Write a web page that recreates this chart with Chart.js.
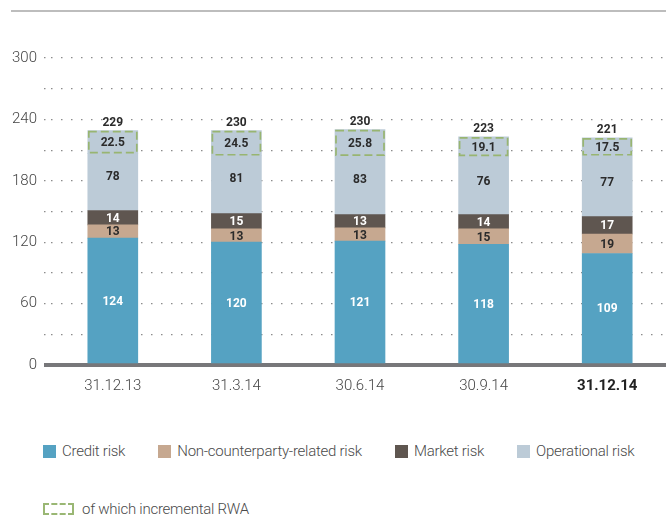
<!DOCTYPE html>
<html>
<head>
<meta charset="utf-8">
<script src="https://cdn.jsdelivr.net/npm/chart.js@4.4.0/dist/chart.umd.min.js"></script>
<style>
  html, body { margin: 0; padding: 0; background: #fff; overflow: hidden; }
  body { width: 666px; height: 519px; position: relative; font-family: Roboto, sans-serif; }
  .topline { position: absolute; left: 11px; top: 10px; width: 660px; height: 2px; background: #bdbdbd; }
  #wrap { position: absolute; left: 0; top: 0; width: 670px; height: 400px; }
  .legend { position: absolute; left: 43px; color: #4a4a4a; font-size: 15px; font-weight: 300; letter-spacing: -0.25px; display: flex; align-items: center; white-space: nowrap; }
  .legend .item { display: flex; align-items: center; margin-right: 33px; }
  .legend .sw { width: 13px; height: 13px; margin-right: 6px; }
  .legend .dash { width: 27px; height: 8px; border: 2px dashed #9ab774; margin-right: 8px; }
</style>
</head>
<body>
<div class="topline"></div>
<div id="wrap"><canvas id="rwaChart" width="670" height="400"></canvas></div>
<div class="legend" style="top:442px">
  <div class="item"><span class="sw" style="background:#55a2c2"></span>Credit risk</div>
  <div class="item"><span class="sw" style="background:#c6a890"></span>Non-counterparty-related risk</div>
  <div class="item"><span class="sw" style="background:#5f5650"></span>Market risk</div>
  <div class="item"><span class="sw" style="background:#bccbd7"></span>Operational risk</div>
</div>
<div class="legend" style="top:500px">
  <div class="item"><span class="dash"></span>of which incremental RWA</div>
</div>
<script>
const categories = ["31.12.13", "31.3.14", "30.6.14", "30.9.14", "31.12.14"];
const creditRisk = [124, 120, 121, 118, 109];
const nonCounterparty = [13, 13, 13, 15, 19];
const marketRisk = [14, 15, 13, 14, 17];
const operationalRisk = [78, 81, 83, 76, 77];
const incrementalRwa = [22.5, 24.5, 25.8, 19.1, 17.5];
const totals = [229, 230, 230, 223, 221];
const yTicks = [0, 60, 120, 180, 240, 300];

const FONT = "Roboto, sans-serif";

// operational bar is split: the part below the dashed box, and the incremental part
const opRest = operationalRisk.map((v, i) => v - incrementalRwa[i]);

// labels inside the segments + dashed box + totals
const labelPlugin = {
  id: "segLabels",
  afterDatasetsDraw(chart) {
    const ctx = chart.ctx;
    ctx.save();
    ctx.font = "bold 12px " + FONT;
    ctx.textAlign = "center";
    ctx.textBaseline = "middle";
    const colors = ["#fff", "#2b2b2b", "#fff"];
    const vals = [creditRisk, nonCounterparty, marketRisk];
    for (let d = 0; d < 3; d++) {
      chart.getDatasetMeta(d).data.forEach((el, i) => {
        ctx.fillStyle = colors[d];
        ctx.fillText(vals[d][i], el.x, (el.y + el.base) / 2 + 1);
      });
    }
    const opMeta = chart.getDatasetMeta(3).data;
    const incMeta = chart.getDatasetMeta(4).data;
    incMeta.forEach((el, i) => {
      const op = opMeta[i];
      const w = el.width;
      ctx.fillStyle = "#2b2b2b";
      ctx.fillText(operationalRisk[i], op.x, (op.base + (el.y + el.base) / 2) / 2 + 1);
      ctx.fillText(incrementalRwa[i].toFixed(1), el.x, (el.y + el.base) / 2 + 1);
      ctx.fillText(totals[i], el.x, el.y - 8);
      ctx.strokeStyle = "#98b571";
      ctx.lineWidth = 1.7;
      ctx.setLineDash([8, 4]);
      ctx.strokeRect(el.x - w / 2 + 1, el.y + 1, w - 2, el.base - el.y - 2);
      ctx.setLineDash([]);
    });
    ctx.restore();
  }
};

const mk = (label, data, color) => ({ label, data, backgroundColor: color, borderWidth: 0, barThickness: 50, stack: "rwa" });

new Chart(document.getElementById("rwaChart"), {
  type: "bar",
  data: {
    labels: categories,
    datasets: [
      mk("Credit risk", creditRisk, "#55a2c2"),
      mk("Non-counterparty-related risk", nonCounterparty, "#c6a890"),
      mk("Market risk", marketRisk, "#5f5650"),
      mk("Operational risk", opRest, "#bccbd7"),
      mk("of which incremental RWA", incrementalRwa, "#bccbd7")
    ]
  },
  options: {
    responsive: false,
    animation: false,
    layout: { padding: { top: 58, right: 1, bottom: 0, left: 0 } },
    plugins: { legend: { display: false }, tooltip: { enabled: false } },
    scales: {
      x: {
        stacked: true,
        grid: { display: false, drawTicks: false },
        border: { display: false },
        ticks: {
          padding: 12,
          color: (c) => (c.index === 4 ? "#222" : "#444"),
          font: (c) => ({ family: FONT, size: 15, weight: c.index === 4 ? "bold" : "300" })
        },
        afterFit: (s) => { s.height = 35; }
      },
      y: {
        stacked: true,
        min: 0,
        max: 300,
        ticks: {
          stepSize: 30,
          padding: 7,
          color: "#444",
          font: { family: FONT, size: 15, weight: "300" },
          callback: (v) => (yTicks.includes(v) ? v : "")
        },
        grid: {
          color: (c) => (c.tick && c.tick.value === 0 ? "#77777a" : "#8c8c8c"),
          lineWidth: (c) => (c.tick && c.tick.value === 0 ? 4 : 1.2),
          tickColor: (c) => (c.tick && c.tick.value === 0 ? "#77777a" : "#8c8c8c"),
          tickWidth: (c) => (c.tick && c.tick.value === 0 ? 4 : 1.2),
          tickBorderDash: (c) => (c.tick && c.tick.value === 0 ? [] : [1.5, 8.5]),
          tickLength: 7
        },
        border: {
          display: false,
          dash: (c) => (c.tick && c.tick.value === 0 ? [] : [1.5, 8.5])
        },
        afterFit: (s) => { s.width = 51; }
      }
    }
  },
  plugins: [labelPlugin]
});
</script>
</body>
</html>
